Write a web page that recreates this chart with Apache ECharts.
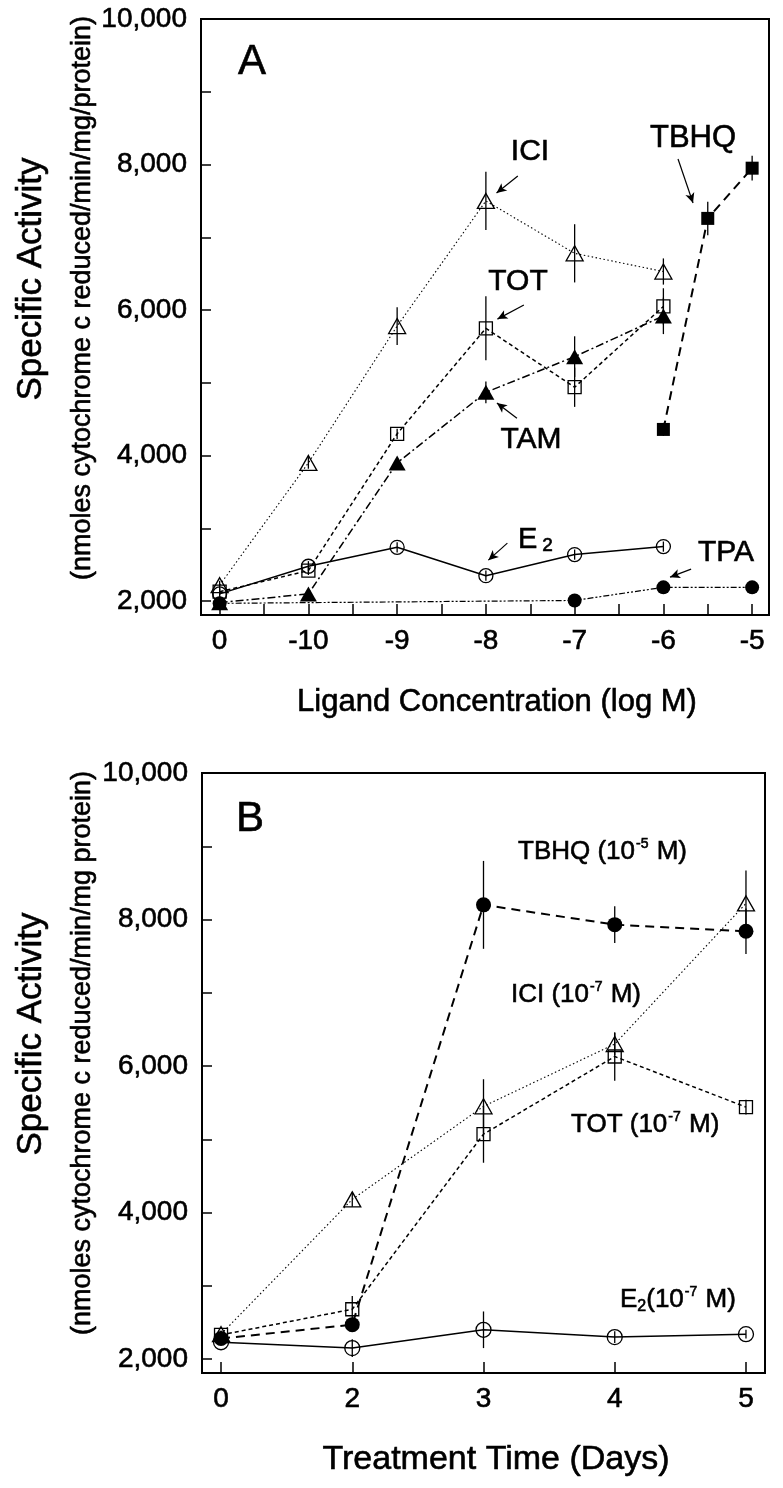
<!DOCTYPE html>
<html><head><meta charset="utf-8">
<script src="https://cdn.jsdelivr.net/npm/echarts@6/dist/echarts.min.js"></script>
<style>html,body{margin:0;padding:0;background:#fff}#c{width:783px;height:1488px}</style>
</head><body><div id="c"></div>
<script>
// ---------- Panel A : Ligand Concentration (log M) ----------
const catA = ['0', '-10', '-9', '-8', '-7', '-6', '-5'];
const iciA_x = [0, 1, 2, 3, 4, 5];
const iciA_y = [2220, 3900, 5780, 7500, 6780, 6530];
const iciA_e = [60, 80, 260, 400, 400, 180];
const totA_x = [0, 1, 2, 3, 4, 5];
const totA_y = [2130, 2420, 4300, 5750, 4940, 6050];
const totA_e = [50, 60, 70, 440, 270, 250];
const tamA_x = [0, 1, 2, 3, 4, 5];
const tamA_y = [1980, 2100, 3900, 4870, 5360, 5920];
const tamA_e = [0, 0, 60, 150, 280, 250];
const e2A_x = [0, 1, 2, 3, 4, 5];
const e2A_y = [2100, 2480, 2740, 2350, 2640, 2750];
const e2A_e = [70, 70, 70, 70, 70, 70];
const tpaA_x = [0, 4, 5, 6];
const tpaA_y = [1970, 2010, 2190, 2190];
const tpaA_e = [0, 0, 50, 40];
const tbhqA_x = [5, 5.5, 6];
const tbhqA_y = [4360, 7260, 7950];
const tbhqA_e = [90, 230, 170];

// ---------- Panel B : Treatment Time (Days) ----------
const catB = ['0', '2', '3', '4', '5'];
const dayB_x = [0, 1, 2, 3, 4];
const tbhqB_y = [2280, 2470, 8200, 7930, 7840];
const tbhqB_e = [0, 0, 600, 250, 310];
const iciB_y = [2340, 4180, 5450, 6300, 8220];
const iciB_e = [50, 100, 370, 150, 450];
const totB_y = [2330, 2680, 5070, 6130, 5440];
const totB_e = [50, 180, 390, 330, 100];
const e2B_y = [2230, 2150, 2400, 2300, 2340];
const e2B_e = [0, 120, 250, 80, 60];

const FONT = '"Liberation Sans", Arial, Helvetica, sans-serif';
const THICK = 0.6; // slight glyph thickening to mimic the printed figure

// annotation arrows (data coords: from -> to)
const arrowsA = [
  [3.36, 7842, 3.12, 7608],
  [5.165, 8076, 5.334, 7471],
  [3.428, 6069, 3.13, 5876],
  [3.35, 4515, 3.124, 4722],
  [3.242, 2797, 3.028, 2564],
  [5.312, 2440, 5.075, 2330]
];

function pts(xs, ys) { return xs.map((x, i) => [x, ys[i]]); }
function errs(xs, ys, es) {
  const out = [];
  xs.forEach((x, i) => { if (es[i] > 0) out.push([x, ys[i] - es[i], ys[i] + es[i]]); });
  return out;
}
const OPEN = 'rgba(0,0,0,0)';
function lineSeries(g, xs, ys, sym, size, filled, dash, width) {
  return {
    type: 'line', xAxisIndex: g, yAxisIndex: g, data: pts(xs, ys),
    symbol: sym, symbolSize: size, showSymbol: true,
    itemStyle: { color: filled ? '#000' : OPEN, borderColor: '#000', borderWidth: filled ? 0 : 1.3 },
    lineStyle: { color: '#000', width: width, type: dash },
    z: 5
  };
}
function errSeries(g, data) {
  return {
    type: 'custom', xAxisIndex: g, yAxisIndex: g, data: data, z: 4,
    renderItem: function (params, api) {
      const a = api.coord([api.value(0), api.value(1)]);
      const b = api.coord([api.value(0), api.value(2)]);
      return { type: 'line', shape: { x1: a[0], y1: a[1], x2: b[0], y2: b[1] },
        style: { stroke: '#000', lineWidth: 1.3 } };
    }
  };
}

const TRI = 'triangle';
const series = [
  lineSeries(0, iciA_x, iciA_y, TRI, [17, 15], false, [1.5, 2.5], 1.1),
  lineSeries(0, totA_x, totA_y, 'rect', 13, false, [4, 3], 1.5),
  lineSeries(0, tamA_x, tamA_y, TRI, [17, 15], true, [8, 3, 2, 3], 1.5),
  lineSeries(0, e2A_x, e2A_y, 'circle', 14, false, 'solid', 1.5),
  lineSeries(0, tpaA_x, tpaA_y, 'circle', 14, true, [6, 2, 2, 2, 2, 2], 1.2),
  lineSeries(0, tbhqA_x, tbhqA_y, 'rect', 13, true, [9, 6], 2),
  errSeries(0, [].concat(errs(iciA_x, iciA_y, iciA_e), errs(totA_x, totA_y, totA_e),
    errs(tamA_x, tamA_y, tamA_e), errs(e2A_x, e2A_y, e2A_e), errs(tpaA_x, tpaA_y, tpaA_e),
    errs(tbhqA_x, tbhqA_y, tbhqA_e))),
  lineSeries(1, dayB_x, tbhqB_y, 'circle', 15, true, [9, 6], 2),
  lineSeries(1, dayB_x, iciB_y, TRI, [17, 15], false, [1.5, 2.5], 1.1),
  lineSeries(1, dayB_x, totB_y, 'rect', 13, false, [4, 3], 1.5),
  lineSeries(1, dayB_x, e2B_y, 'circle', 15, false, 'solid', 1.5),
  errSeries(1, [].concat(errs(dayB_x, tbhqB_y, tbhqB_e), errs(dayB_x, iciB_y, iciB_e),
    errs(dayB_x, totB_y, totB_e), errs(dayB_x, e2B_y, e2B_e)))
];
// arrows
series[0].markLine = {
  silent: true, symbol: ['none', 'arrow'], symbolSize: [7, 10], animation: false,
  label: { show: false }, lineStyle: { color: '#000', width: 1.2, type: 'solid' },
  emphasis: { disabled: true },
  data: arrowsA.map(a => [{ coord: [a[0], a[1]] }, { coord: [a[2], a[3]] }])
};

function xAxis(g, min, max, step, cats) {
  return {
    gridIndex: g, type: 'value', min: min, max: max, minInterval: step, maxInterval: step,
    splitLine: { show: false },
    axisLine: { onZero: false, lineStyle: { color: '#000', width: 2 } },
    axisTick: { inside: true, length: 11, lineStyle: { color: '#000', width: 1.5 } },
    axisLabel: { margin: 12, fontSize: 28, color: '#000', fontFamily: FONT,
      textBorderColor: '#000', textBorderWidth: THICK,
      formatter: v => (Number.isInteger(v) && cats[v] !== undefined) ? cats[v] : '' }
  };
}
function yAxis(g) {
  return {
    gridIndex: g, type: 'value', min: 1810, max: 10000, minInterval: 1000, maxInterval: 1000,
    splitLine: { show: false },
    axisLine: { onZero: false, lineStyle: { color: '#000', width: 2 } },
    axisTick: { inside: true, length: 10, lineStyle: { color: '#000', width: 1.5 } },
    axisLabel: { margin: 14, fontSize: 28, color: '#000', fontFamily: FONT,
      textBorderColor: '#000', textBorderWidth: THICK,
      formatter: v => (v % 2000 === 0) ? v.toLocaleString('en-US') : '' }
  };
}

function T(x, y, text, size, align, extra) {
  return Object.assign({
    type: 'text', x: x, y: y, z: 100,
    style: { text: text, fontSize: size, fontFamily: FONT, fill: '#000',
      stroke: '#000', lineWidth: THICK,
      align: align || 'center', verticalAlign: 'middle',
      textAlign: align || 'center', textVerticalAlign: 'middle' }
  }, extra || {});
}
function R(x, y, text, rich, align) {
  return {
    type: 'text', x: x, y: y, z: 100,
    style: { text: text, rich: rich, fontFamily: FONT, fill: '#000',
      stroke: '#000', lineWidth: THICK,
      align: align || 'left', verticalAlign: 'middle',
      textAlign: align || 'left', textVerticalAlign: 'middle' }
  };
}
const TB = { fill: '#000', stroke: '#000', lineWidth: THICK, fontFamily: FONT };
const richB = {
  n: Object.assign({ fontSize: 26, lineHeight: 30, verticalAlign: 'middle' }, TB),
  s: Object.assign({ fontSize: 14, lineHeight: 12, verticalAlign: 'top', padding: [0, 1, 0, 1] }, TB),
  b: Object.assign({ fontSize: 16, lineHeight: 8, verticalAlign: 'bottom' }, TB)
};
const richE = {
  n: Object.assign({ fontSize: 29, lineHeight: 30, verticalAlign: 'middle' }, TB),
  b: Object.assign({ fontSize: 19, lineHeight: 7, verticalAlign: 'bottom', padding: [0, 0, 0, 5] }, TB)
};
const ROT = Math.PI / 2;
const graphics = [
  T(252, 62, 'A', 42), T(250, 819, 'B', 42),
  T(530, 152, 'ICI', 30), T(693, 138, 'TBHQ', 31), T(518, 282, 'TOT', 30),
  T(531, 440, 'TAM', 30), T(726, 553, 'TPA', 30),
  R(518, 540, '{n|E}{b|2}', richE),
  R(518, 852, '{n|TBHQ (10}{s|-5}{n| M)}', richB),
  R(511, 995, '{n|ICI (10}{s|-7}{n| M)}', richB),
  R(571, 1125, '{n|TOT (10}{s|-7}{n| M)}', richB),
  R(620, 1300, '{n|E}{b|2}{n|(10}{s|-7}{n| M)}', richB),
  T(497, 702, 'Ligand Concentration (log M)', 31),
  T(496, 1460, 'Treatment Time (Days)', 34),
  T(31, 279, 'Specific Activity', 35, 'center', { rotation: ROT }),
  T(83, 298, '(nmoles cytochrome c reduced/min/mg/protein)', 27, 'center', { rotation: ROT }),
  T(31, 1034, 'Specific Activity', 35, 'center', { rotation: ROT }),
  T(83, 1053, '(nmoles cytochrome c reduced/min/mg protein)', 27, 'center', { rotation: ROT })
];

const chart = echarts.init(document.getElementById('c'), null, { renderer: 'canvas' });
chart.setOption({
  animation: false,
  backgroundColor: '#fff',
  grid: [
    { left: 201, top: 19, width: 568, height: 596, show: true, borderColor: '#000', borderWidth: 2, containLabel: false },
    { left: 202, top: 773, width: 563, height: 600, show: true, borderColor: '#000', borderWidth: 2, containLabel: false }
  ],
  xAxis: [xAxis(0, -0.21, 6.19, 0.5, catA), xAxis(1, -0.145, 4.145, 1, catB)],
  yAxis: [yAxis(0), yAxis(1)],
  series: series,
  graphic: graphics
});
</script>
</body></html>
